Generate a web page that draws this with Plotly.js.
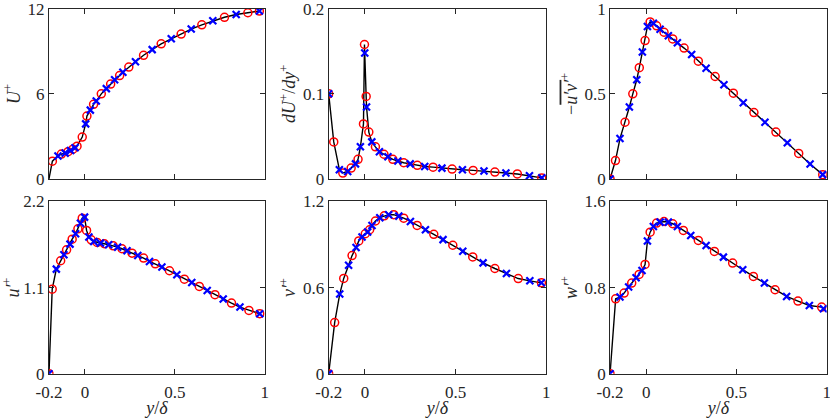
<!DOCTYPE html>
<html>
<head>
<meta charset="utf-8">
<script src="https://cdn.plot.ly/plotly-3.0.1.min.js"></script>
<style>
  html, body { margin: 0; padding: 0; background: white; }
  #chart { width: 830px; height: 418px; }
</style>
</head>
<body>
<div id="chart"></div>
<script>
// y/delta positions and values, one set per panel
// red circles and blue crosses; the black line passes through both

// U+
const uMeanRedX = [-0.181, -0.131, -0.094, -0.067, -0.044, -0.015, 0.011, 0.048, 0.091, 0.143, 0.193, 0.244, 0.326, 0.424, 0.535, 0.65, 0.776, 0.906, 0.97];
const uMeanRedY = [1.25, 1.75, 1.92, 2.1, 2.31, 2.95, 4.43, 5.26, 6.0, 6.69, 7.29, 7.89, 8.72, 9.53, 10.22, 10.87, 11.4, 11.72, 11.84];
const uMeanBlueX = [-0.15, -0.11, -0.08, -0.055, 0.004, 0.03, 0.063, 0.119, 0.165, 0.211, 0.281, 0.374, 0.48, 0.591, 0.711, 0.841, 0.97];
const uMeanBlueY = [1.62, 1.82, 2.0, 2.2, 3.88, 4.85, 5.49, 6.37, 6.99, 7.52, 8.26, 9.12, 9.88, 10.57, 11.15, 11.6, 11.84];

// dU+/dy+
const dudyRedX = [-0.2, -0.172, -0.122, -0.076, -0.038, -0.008, -0.0025, 0.0068, 0.0215, 0.058, 0.105, 0.154, 0.214, 0.289, 0.376, 0.481, 0.597, 0.717, 0.841, 0.976];
const dudyRedY = [0.1, 0.0435, 0.0069, 0.0127, 0.023, 0.0646, 0.158, 0.097, 0.055, 0.0377, 0.029, 0.023, 0.019, 0.016, 0.0138, 0.0115, 0.01, 0.0081, 0.0058, 0.0012];
const dudyBlueX = [-0.2, -0.141, -0.095, -0.052, -0.025, -0.001, 0.009, 0.038, 0.08, 0.127, 0.182, 0.25, 0.33, 0.425, 0.538, 0.657, 0.778, 0.908, 0.976];
const dudyBlueY = [0.1, 0.0108, 0.0088, 0.0177, 0.0377, 0.148, 0.0846, 0.0435, 0.032, 0.026, 0.021, 0.0177, 0.0146, 0.0127, 0.0108, 0.0092, 0.0069, 0.0038, 0.0012];

// -u'v'+
const uvRedX = [-0.2, -0.17, -0.117, -0.074, -0.038, -0.006, 0.022, 0.058, 0.099, 0.147, 0.21, 0.289, 0.382, 0.483, 0.597, 0.719, 0.845, 0.978];
const uvRedY = [0, 0.108, 0.333, 0.5, 0.654, 0.813, 0.923, 0.9, 0.862, 0.823, 0.769, 0.692, 0.602, 0.504, 0.39, 0.275, 0.15, 0.025];
const uvBlueX = [-0.2, -0.145, -0.093, -0.052, -0.021, 0.007, 0.04, 0.077, 0.123, 0.173, 0.252, 0.332, 0.431, 0.538, 0.658, 0.782, 0.908, 0.978];
const uvBlueY = [0, 0.237, 0.423, 0.583, 0.746, 0.896, 0.915, 0.88, 0.842, 0.8, 0.731, 0.65, 0.554, 0.448, 0.333, 0.212, 0.088, 0.025];

// u'+
const urmsRedX = [-0.2, -0.182, -0.135, -0.102, -0.071, -0.039, -0.015, 0.009, 0.035, 0.068, 0.108, 0.157, 0.206, 0.262, 0.326, 0.391, 0.47, 0.553, 0.636, 0.723, 0.815, 0.912, 0.972];
const urmsRedY = [0, 1.08, 1.443, 1.583, 1.719, 1.851, 1.987, 1.83, 1.71, 1.677, 1.66, 1.634, 1.596, 1.54, 1.477, 1.404, 1.315, 1.208, 1.115, 1.009, 0.902, 0.808, 0.766];
const urmsBlueX = [-0.2, -0.159, -0.117, -0.083, -0.052, -0.025, -0.002, 0.022, 0.049, 0.086, 0.132, 0.182, 0.234, 0.294, 0.359, 0.428, 0.511, 0.594, 0.68, 0.769, 0.862, 0.972];
const urmsBlueY = [0, 1.336, 1.52, 1.655, 1.787, 1.923, 2.0, 1.745, 1.689, 1.668, 1.647, 1.617, 1.57, 1.511, 1.434, 1.362, 1.264, 1.166, 1.064, 0.953, 0.851, 0.766];

// v'+
const vrmsRedX = [-0.2, -0.167, -0.117, -0.071, -0.034, 0.002, 0.026, 0.058, 0.107, 0.159, 0.214, 0.288, 0.38, 0.485, 0.595, 0.717, 0.846, 0.974];
const vrmsRedY = [0, 0.356, 0.664, 0.823, 0.925, 0.975, 1.003, 1.064, 1.1, 1.108, 1.084, 1.033, 0.971, 0.895, 0.814, 0.733, 0.663, 0.633];
const vrmsBlueX = [-0.2, -0.139, -0.09, -0.049, -0.016, 0.015, 0.039, 0.082, 0.131, 0.187, 0.251, 0.334, 0.431, 0.54, 0.652, 0.781, 0.91, 0.974];
const vrmsBlueY = [0, 0.555, 0.756, 0.879, 0.953, 0.987, 1.033, 1.087, 1.108, 1.098, 1.061, 1.003, 0.934, 0.853, 0.772, 0.698, 0.647, 0.633];

// w'+
const wrmsRedX = [-0.2, -0.169, -0.122, -0.08, -0.039, -0.006, 0.022, 0.058, 0.099, 0.147, 0.206, 0.289, 0.378, 0.479, 0.594, 0.714, 0.841, 0.972];
const wrmsRedY = [0, 0.696, 0.749, 0.842, 0.922, 1.015, 1.315, 1.399, 1.414, 1.393, 1.331, 1.238, 1.136, 1.028, 0.904, 0.78, 0.675, 0.619];
const wrmsBlueX = [-0.2, -0.145, -0.097, -0.056, -0.023, 0.007, 0.04, 0.077, 0.123, 0.173, 0.247, 0.332, 0.428, 0.535, 0.655, 0.778, 0.904, 0.982];
const wrmsBlueY = [0, 0.712, 0.805, 0.891, 0.959, 1.232, 1.368, 1.408, 1.408, 1.368, 1.284, 1.191, 1.083, 0.966, 0.842, 0.718, 0.634, 0.604];

const xTickVals = [-0.2, 0, 0.5, 1];
const xTickText = ['-0.2', '0', '0.5', '1'];

const panels = [
    { redX: uMeanRedX, redY: uMeanRedY, blueX: uMeanBlueX, blueY: uMeanBlueY, wallY: 0,
      yTicks: [0, 6, 12], yText: ['0', '6', '12'], title: '<i>U</i><sup>+</sup>' },
    { redX: dudyRedX, redY: dudyRedY, blueX: dudyBlueX, blueY: dudyBlueY, wallY: 0.1,
      yTicks: [0, 0.1, 0.2], yText: ['0', '0.1', '0.2'], title: '<i>dU</i><sup>+</sup>/<i>dy</i><sup>+</sup>' },
    { redX: uvRedX, redY: uvRedY, blueX: uvBlueX, blueY: uvBlueY, wallY: 0,
      yTicks: [0, 0.5, 1], yText: ['0', '0.5', '1'], title: '−<span style="text-decoration:overline"><i>u′v′</i></span><sup>+</sup>' },
    { redX: urmsRedX, redY: urmsRedY, blueX: urmsBlueX, blueY: urmsBlueY, wallY: 0,
      yTicks: [0, 1.1, 2.2], yText: ['0', '1.1', '2.2'], title: '<i>u′</i><sup>+</sup>' },
    { redX: vrmsRedX, redY: vrmsRedY, blueX: vrmsBlueX, blueY: vrmsBlueY, wallY: 0,
      yTicks: [0, 0.6, 1.2], yText: ['0', '0.6', '1.2'], title: '<i>v′</i><sup>+</sup>' },
    { redX: wrmsRedX, redY: wrmsRedY, blueX: wrmsBlueX, blueY: wrmsBlueY, wallY: 0,
      yTicks: [0, 0.8, 1.6], yText: ['0', '0.8', '1.6'], title: '<i>w′</i><sup>+</sup>' }
];

// subplot boxes measured on the reference (fractions of the 830x418 page)
const xDomains = [[0.059, 0.319], [0.396, 0.658], [0.735, 0.996]];
const yDomains = [[0.572, 0.979], [0.106, 0.518]];

const fontFamily = '"Liberation Serif", "Times New Roman", Times, serif';
const axisColor = '#262626';

const traces = [];
const layout = {
    width: 830,
    height: 418,
    margin: { l: 0, r: 0, t: 0, b: 0 },
    paper_bgcolor: 'white',
    plot_bgcolor: 'white',
    showlegend: false,
    font: { family: fontFamily, size: 16, color: axisColor }
};

panels.forEach((p, i) => {
    const n = i + 1;
    const xa = 'x' + (n === 1 ? '' : n);
    const ya = 'y' + (n === 1 ? '' : n);

    // black line through both marker sets, sorted along y/delta
    const pts = p.redX.map((x, k) => [x, p.redY[k]])
        .concat(p.blueX.map((x, k) => [x, p.blueY[k]]))
        .sort((a, b) => a[0] - b[0]);
    if (pts[0][0] > -0.2) pts.unshift([-0.2, p.wallY]);

    traces.push({
        x: pts.map(d => d[0]), y: pts.map(d => d[1]),
        xaxis: xa, yaxis: ya, type: 'scatter', mode: 'lines',
        line: { color: 'black', width: 1.4 }, hoverinfo: 'skip'
    });
    traces.push({
        x: p.redX, y: p.redY, xaxis: xa, yaxis: ya, type: 'scatter', mode: 'markers',
        marker: { symbol: 'circle-open', size: 8, color: 'red', line: { color: 'red', width: 1.5 } }
    });
    traces.push({
        x: p.blueX, y: p.blueY, xaxis: xa, yaxis: ya, type: 'scatter', mode: 'markers',
        marker: { symbol: 'x-thin-open', size: 7, color: 'blue', line: { color: 'blue', width: 2.2 } }
    });

    const bottomRow = i >= 3;
    layout['xaxis' + (n === 1 ? '' : n)] = {
        domain: xDomains[i % 3],
        anchor: ya,
        range: [-0.2, 1],
        tickvals: xTickVals,
        ticktext: xTickText,
        showticklabels: bottomRow,
        ticklabeloverflow: 'allow',
        ticklabelstandoff: 3,
        ticks: 'inside',
        ticklen: 5,
        tickcolor: axisColor,
        showline: true,
        mirror: 'ticks',
        linecolor: axisColor,
        linewidth: 1,
        showgrid: false,
        zeroline: false,
        tickfont: { family: fontFamily, size: 17, color: axisColor },
        title: bottomRow ? { text: '<i>y</i>/<i>δ</i>', font: { family: fontFamily, size: 18, color: axisColor }, standoff: 2 } : { text: '' }
    };
    layout['yaxis' + (n === 1 ? '' : n)] = {
        domain: yDomains[bottomRow ? 1 : 0],
        anchor: xa,
        range: [p.yTicks[0], p.yTicks[2]],
        tickvals: p.yTicks,
        ticktext: p.yText,
        ticklabeloverflow: 'allow',
        ticks: 'inside',
        ticklen: 5,
        tickcolor: axisColor,
        showline: true,
        mirror: 'ticks',
        linecolor: axisColor,
        linewidth: 1,
        showgrid: false,
        zeroline: false,
        tickfont: { family: fontFamily, size: 17, color: axisColor },
        title: { text: p.title, font: { family: fontFamily, size: 18, color: axisColor }, standoff: 2 }
    };
});

Plotly.newPlot('chart', traces, layout, { displayModeBar: false, staticPlot: true });
</script>
</body>
</html>
